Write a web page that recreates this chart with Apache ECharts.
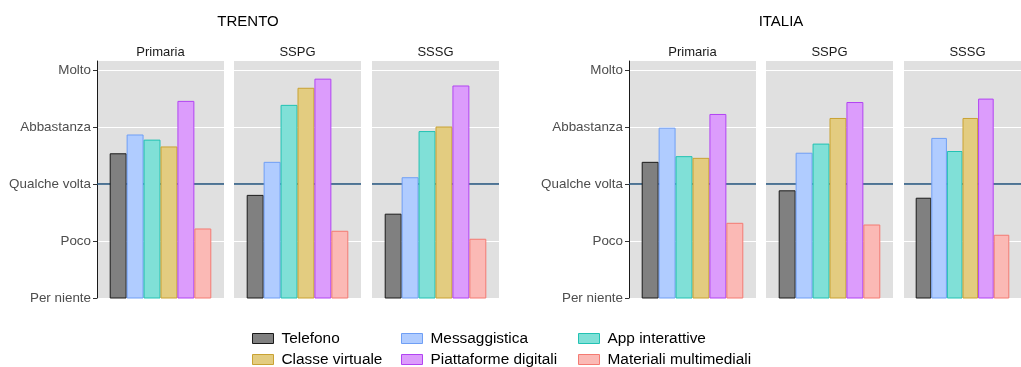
<!DOCTYPE html>
<html>
<head>
<meta charset="utf-8">
<script src="https://cdn.jsdelivr.net/npm/echarts@6/dist/echarts.min.js"></script>
<style>html,body{margin:0;padding:0;background:#fff}#c{width:1021px;height:367px}</style>
</head>
<body>
<div id="c"></div>
<script>
// ---- data ----
const regions = ['TRENTO', 'ITALIA'];
const schools = ['Primaria', 'SSPG', 'SSSG'];
const levels = ['Per niente', 'Poco', 'Qualche volta', 'Abbastanza', 'Molto'];
const seriesNames = ['Telefono', 'Messaggistica', 'App interattive', 'Classe virtuale', 'Piattaforme digitali', 'Materiali multimediali'];
const trentoPrimaria = [3.54, 3.87, 3.78, 3.66, 4.46, 2.22];
const trentoSSPG     = [2.81, 3.39, 4.39, 4.69, 4.85, 2.18];
const trentoSSSG     = [2.48, 3.12, 3.93, 4.01, 4.73, 2.04];
const italiaPrimaria = [3.39, 3.99, 3.49, 3.46, 4.23, 2.32];
const italiaSSPG     = [2.89, 3.55, 3.71, 4.16, 4.44, 2.29];
const italiaSSSG     = [2.76, 3.81, 3.58, 4.16, 4.50, 2.11];
const referenceLevel = 3;

// ---- styles / layout ----
const fills   = ['#808080', '#b0ccff', '#80e0d7', '#e3cc80', '#dc9cfc', '#fbb9b5'];
const borders = ['#1a1a1a', '#6f9ff5', '#22c2b3', '#c9a233', '#b244f2', '#f47a72'];
const panelData = [[trentoPrimaria, trentoSSPG, trentoSSSG], [italiaPrimaria, italiaSSPG, italiaSSSG]];
const gridLefts = [[97, 234, 372], [629, 766, 904]];
const titleX = [248, 781];
const panelW = 127, panelTop = 61, panelH = 237;
const FONT = '"Liberation Sans", Arial, sans-serif';

const grids = [], xAxes = [], yAxes = [], series = [], graphics = [];
let gi = 0;
regions.forEach((reg, r) => {
  graphics.push({type: 'text', x: titleX[r], y: 22, style: {text: reg, fill: '#000', font: '15px ' + FONT, align: 'center', verticalAlign: 'middle'}});
  schools.forEach((sc, s) => {
    const left = gridLefts[r][s];
    grids.push({left: left, top: panelTop, width: panelW, height: panelH, show: true, backgroundColor: '#e0e0e0', borderWidth: 0});
    graphics.push({type: 'text', x: left + panelW / 2, y: 52, style: {text: sc, fill: '#1a1a1a', font: '13px ' + FONT, align: 'center', verticalAlign: 'middle'}});
    xAxes.push({type: 'category', gridIndex: gi, data: [sc], show: false});
    const first = s === 0;
    yAxes.push({
      type: 'value', gridIndex: gi, min: 1, max: 5.16, interval: 1,
      axisLine: {show: first, lineStyle: {color: '#1a1a1a', width: 1}},
      axisTick: {show: first, length: 4, lineStyle: {color: '#333'}, customValues: [1, 2, 3, 4, 5]},
      axisLabel: {show: first, color: '#4d4d4d', fontSize: 13.4, fontFamily: FONT, margin: 6,
        customValues: [1, 2, 3, 4, 5],
        formatter: v => (Math.abs(v - Math.round(v)) < 1e-6 ? levels[Math.round(v) - 1] : '')},
      splitLine: {show: true, lineStyle: {color: '#ffffff', width: 1.2}}
    });
    seriesNames.forEach((name, k) => {
      const ser = {
        name: name, type: 'bar', xAxisIndex: gi, yAxisIndex: gi,
        data: [panelData[r][s][k]],
        barGap: '0%', barCategoryGap: '20%',
        itemStyle: {color: fills[k], borderColor: borders[k], borderWidth: 1},
        emphasis: {disabled: true}, z: 3, animation: false
      };
      if (k === 0) {
        ser.markLine = {silent: true, symbol: 'none', z: 1, label: {show: false},
          lineStyle: {color: '#1d4e79', width: 1.5, type: 'solid'},
          data: [{yAxis: referenceLevel}], animation: false};
      }
      series.push(ser);
    });
    gi++;
  });
});

// legend: 2 rows x 3 columns, one component per item
const legendCols = [252, 401, 578];
const legendRows = [331, 352];
const legends = seriesNames.map((name, k) => ({
  left: legendCols[k % 3], top: legendRows[Math.floor(k / 3)],
  data: [name], itemWidth: 21, itemHeight: 10, icon: 'rect', selectedMode: false, padding: 0,
  itemStyle: {borderWidth: 1},
  textStyle: {fontSize: 15.4, color: '#000', fontFamily: FONT, lineHeight: 15, padding: [0, 0, 0, 3]}
}));

const chart = echarts.init(document.getElementById('c'), null, {renderer: 'canvas'});
chart.setOption({
  animation: false,
  backgroundColor: '#ffffff',
  grid: grids, xAxis: xAxes, yAxis: yAxes, series: series,
  legend: legends, graphic: graphics
});
</script>
</body>
</html>
